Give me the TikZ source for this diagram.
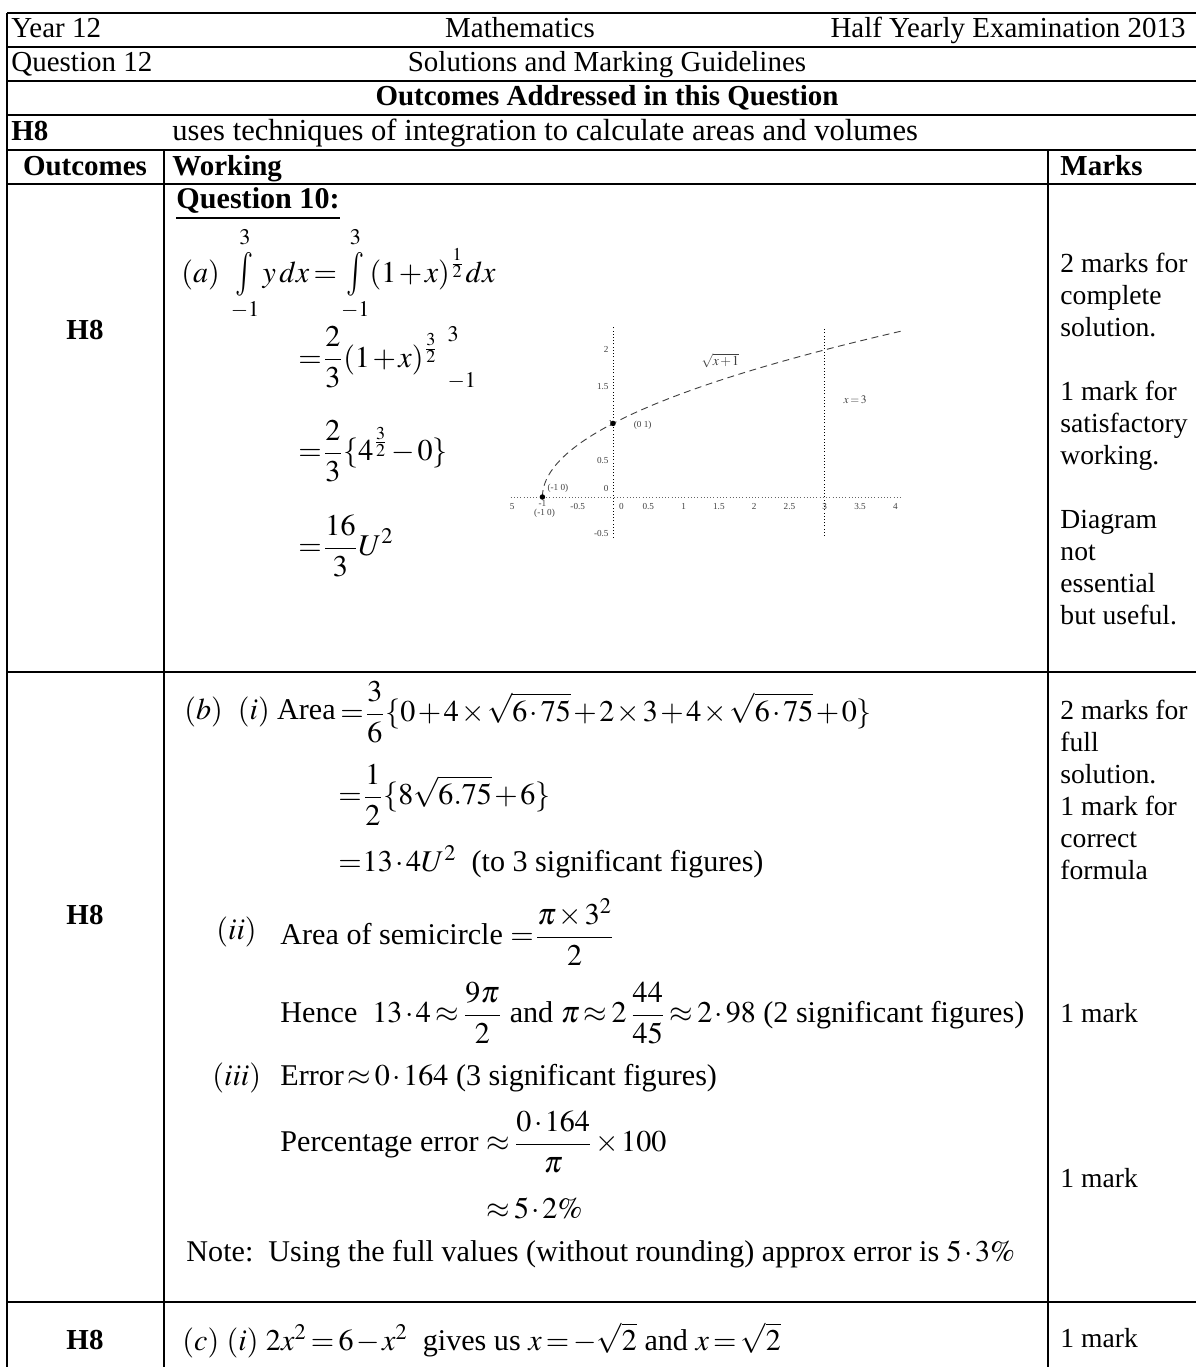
\documentclass[tikz,border=0pt]{standalone}
\usepackage{amsmath}
\usepackage{mathptmx}
\usepackage[no-math]{fontspec}
\setmainfont{Liberation Serif}
\usetikzlibrary{positioning}
\thickmuskip=2.5mu plus 2mu
\medmuskip=1.5mu plus 1mu
\newcommand{\sint}{\mathop{\vcenter{\hbox{\scalebox{1}[1.45]{$\textstyle\int$}}}}\limits}

\begin{document}
\begin{tikzpicture}[x=0.435pt,y=-0.435pt,
    txt/.style={anchor=west,inner sep=0pt,font=\fontsize{13.1}{15}\selectfont},
    top/.style={anchor=base west,inner sep=0pt,font=\fontsize{12.6}{14}\selectfont},
    hdr/.style={top,font=\fontsize{12.6}{14}\selectfont\bfseries},
    mrk/.style={anchor=north west,align=left,inner sep=0pt,font=\fontsize{12}{13.9}\selectfont},
    tick/.style={inner sep=0.5pt,font=\fontsize{4}{4}\selectfont,text=black!75},
    rule/.style={line width=0.8pt}]
  \useasboundingbox (0,0) rectangle (1195,1367);

  % table rules
  \foreach \r in {13,47,81,115,150,184,672,1302}
    \draw[rule] (7,\r) -- (1200,\r);
  \draw[rule] (7,13) -- (7,1370);
  \draw[rule] (164,150) -- (164,1370);
  \draw[rule] (1048,150) -- (1048,1370);

  % header
  \path
  (11,37) node[top](year) {Year 12}
  (520,37) node[top,anchor=base](subj) {Mathematics}
  (1186,37) node[top,anchor=base east](exam) {Half Yearly Examination 2013}
  (11,71) node[top](qn) {Question 12}
  (607,71) node[top,anchor=base](sol) {Solutions and Marking Guidelines}
  (607,105) node[hdr,anchor=base](outc) {Outcomes Addressed in this Question}
  (11,140) node[hdr](hh) {H8}
  (172,140) node[top,font=\fontsize{13.3}{15}\selectfont](uses) {uses techniques of integration to calculate areas and volumes}
  (85,175) node[hdr,anchor=base](colo) {Outcomes}
  (172,175) node[hdr](colw) {Working}
  (1060,175) node[hdr](colm) {Marks}
  ;

  % part (a)
  \path
  (85,330) node[hdr,anchor=center](ha) {H8}
  (176,204) node[txt](q10) {\underline{\textbf{Question 10:}}}
  (181,274) node[txt](a1) {$\displaystyle (a)\ \sint_{-1}^{\rule[-2pt]{0pt}{0pt}3} y\,dx=\sint_{-1}^{\rule[-2pt]{0pt}{0pt}3}(1+x)^{\frac{1}{2}}dx$}
  (298,358) node[txt](a2) {$\displaystyle =\!\frac{2}{3}(1+x)^{\frac{3}{2}}\;\;\Big.^{3}_{-1}$}
  (298,451) node[txt](a3) {$\displaystyle =\!\frac{2}{3}\{4^{\frac{3}{2}}-0\}$}
  (298,546) node[txt](a4) {$\displaystyle =\!\frac{16}{3}U^{2}$}
  (1060,253) node[mrk](ma) {2 marks for\\complete\\solution.\\[13.9pt]1 mark for\\satisfactory\\working.\\[13.9pt]Diagram\\not\\essential\\but useful.}
  ;

  % graph of sqrt(x+1)
  \begin{scope}[shift={(613,497)},x=30.7pt,y=32pt]
    \draw[densely dotted,black!60] (-1.45,0) -- (4.08,0);
    \draw[densely dotted] (0,-0.55) -- (0,2.33);
    \draw[densely dotted] (3,-0.53) -- (3,2.28);
    \draw[densely dashed,black!75] plot[domain=0:2.26,samples=60,smooth] ({\x*\x-1},{\x});
    \fill (-1,0) circle (1.2pt) (0,1) circle (1.2pt);
    \foreach \v in {-0.5,0.5,1,1.5,2,2.5,3,3.5,4}
      \node[tick] at (\v,-0.13) {\v};
    \node[tick](xa) at (0.12,-0.13) {0};
    \node[tick](xm) at (-1.43,-0.13) {5};
    \node[tick](xb) at (-1,-0.09) {-1};
    \foreach \v in {-0.5,0.5,1.5,2}
      \node[tick,anchor=east] at (-0.04,\v) {\v};
    \node[tick,anchor=east](ya) at (-0.04,0.11) {0};
    \node[tick,anchor=east](yb) at (0.02,1) {1};
    \node[tick](p1) at (-0.78,0.12) {(-1 0)};
    \node[tick](p2) at (-0.97,-0.22) {(-1 0)};
    \node[tick](p3) at (0.42,0.97) {(0 1)};
    \node[tick,font=\fontsize{6}{6}\selectfont](fx) at (1.52,1.85) {$\sqrt{x+1}$};
    \node[tick,font=\fontsize{5}{5}\selectfont](x3) at (3.43,1.32) {$x=3$};
  \end{scope}

  % part (b)
  \path
  (85,915) node[hdr,anchor=center](hb) {H8}
  (184,712) node[txt](b0) {$(b)$\ \ $(i)$\ Area}
  (340,712) node[txt](b1) {$\displaystyle =\!\frac{3}{6}\{0+4\times\sqrt{6\cdot75}+2\times3+4\times\sqrt{6\cdot75}+0\}$}
  (338,795) node[txt](b2) {$\displaystyle =\!\frac{1}{2}\{8\sqrt{6.75}+6\}$}
  (338,862) node[txt](b3) {$=\!13\cdot4U^{2}$\ \ (to 3 significant figures)}
  (216,932) node[txt](b4) {$(ii)$}
  (280,932) node[txt](b5) {Area of semicircle $\displaystyle =\!\frac{\pi\times3^{2}}{2}$}
  (280,1013) node[txt](b6) {Hence\ \ $\displaystyle 13\cdot4\approx\frac{9\pi}{2}$\ and $\displaystyle \pi\approx2\,\frac{44}{45}\approx2\cdot98$ (2 significant figures)}
  (212,1078) node[txt](b7) {$(iii)$}
  (280,1078) node[txt](b8) {Error$\,\approx0\cdot164$ (3 significant figures)}
  (280,1142) node[txt](b9) {Percentage error $\displaystyle \approx\frac{0\cdot164}{\pi}\times100$}
  (486,1208) node[txt](b10) {$\approx5\cdot2\%$}
  (186,1254) node[txt](b11) {Note:\ \ Using the full values (without rounding) approx error is $5\cdot3\%$}
  (1060,700) node[mrk](mb1) {2 marks for\\full\\solution.\\1 mark for\\correct\\formula}
  (1060,1013) node[mrk,anchor=west](mb2) {1 mark}
  (1060,1178) node[mrk,anchor=west](mb3) {1 mark}
  ;

  % part (c)
  \path
  (85,1340) node[hdr,anchor=center](hc) {H8}
  (182,1340) node[txt](c1) {$(c)$ $(i)$ $2x^{2}=6-x^{2}$\ \ gives us $x=-\sqrt{2}$ and $x=\sqrt{2}$}
  (1060,1338) node[mrk,anchor=west](mc) {1 mark}
  ;
\end{tikzpicture}
\end{document}
